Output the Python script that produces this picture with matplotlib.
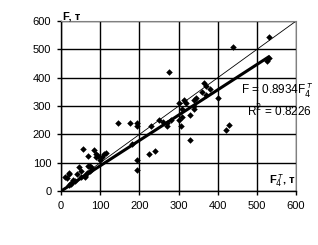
import numpy as np
import matplotlib
matplotlib.use('Agg')
import matplotlib.pyplot as plt

plt.rcParams['font.family'] = ['Liberation Sans', 'DejaVu Sans']

# measured F4^T (x) vs computed F (y), tonnes
x_vals = [10, 15, 20, 20, 25, 20, 30, 40, 45, 50, 55, 60, 65, 70, 70, 75, 80, 85, 90, 90,
          95, 110, 115, 100, 105, 60, 50, 35, 25, 75,
          145, 175, 195, 195, 180, 195, 195, 225, 240, 230, 250, 260, 270, 270, 280, 275,
          300, 305, 310, 310, 315, 320, 330, 340, 340, 340, 345, 330, 300, 360, 370, 365,
          380, 370, 400, 420, 430, 440, 530, 530, 525]
y_vals = [50, 45, 60, 65, 30, 20, 40, 60, 85, 70, 150, 55, 65, 90, 125, 90, 80, 145, 130, 120,
          125, 130, 135, 110, 120, 50, 50, 35, 25, 70,
          240, 240, 240, 230, 165, 110, 75, 130, 140, 230, 250, 245, 230, 240, 250, 420,
          250, 230, 260, 290, 320, 310, 270, 290, 300, 320, 330, 180, 310, 350, 370, 380,
          360, 340, 330, 215, 235, 510, 545, 470, 460]
slope = 0.8934
r2 = 0.8226

fig = plt.figure(figsize=(3.18, 2.45), dpi=100)
ax = fig.add_axes([0.192, 0.22, 0.739, 0.694])

ax.scatter(x_vals, y_vals, marker='D', s=11, color='black', zorder=3, linewidths=0)

xl = np.array([0, 600])
ax.plot(xl, xl, color='black', lw=0.6, zorder=2)
xr = np.array([0, max(x_vals)])
ax.plot(xr, slope * xr, color='black', lw=2.2, zorder=2)

ax.set_xlim(0, 600)
ax.set_ylim(0, 600)
ax.set_xticks(range(0, 601, 100))
ax.set_yticks(range(0, 601, 100))
ax.grid(True, color='black', lw=1)
ax.set_axisbelow(True)
ax.tick_params(labelsize=8, length=3, width=1, direction='out', pad=4)
for s in ['top', 'right']:
    ax.spines[s].set_color('gray')
for s in ['left', 'bottom']:
    ax.spines[s].set_linewidth(1)

ax.text(5, 598, 'F, т', fontsize=8, fontweight='bold', va='bottom', ha='left')
ax.text(598, 8, r'F$_4^{\,т}$, т', fontsize=8, fontweight='bold', va='bottom', ha='right')
ax.text(460, 352, 'F = %.4fF$_4^{\\,т}$' % slope, fontsize=8.5, va='center', ha='left',
        clip_on=False)
ax.text(476, 283, 'R$^2$ = %.4f' % r2, fontsize=8.5, va='center', ha='left',
        clip_on=False)

fig.savefig('out.png', dpi=100)
